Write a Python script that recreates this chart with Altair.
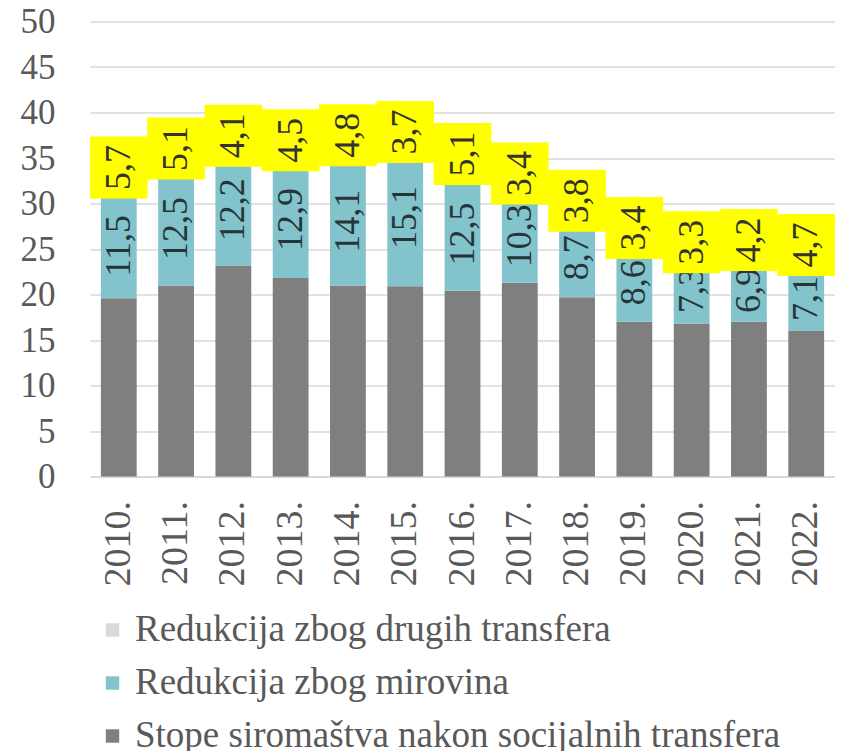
import altair as alt
import pandas as pd

years = ["2010.", "2011.", "2012.", "2013.", "2014.", "2015.", "2016.",
         "2017.", "2018.", "2019.", "2020.", "2021.", "2022."]
stope = [19.6, 21.0, 23.2, 21.8, 21.0, 20.9, 20.4, 21.3, 19.7, 17.0, 16.8, 17.0, 16.0]
mirovine = [11.5, 12.5, 12.2, 12.9, 14.1, 15.1, 12.5, 10.3, 8.7, 8.6, 7.3, 6.9, 7.1]
drugi = [5.7, 5.1, 4.1, 4.5, 4.8, 3.7, 5.1, 3.4, 3.8, 3.4, 3.3, 4.2, 4.7]

s_names = ["Redukcija zbog drugih transfera", "Redukcija zbog mirovina",
           "Stope siromaštva nakon socijalnih transfera"]
s_colors = ["#d9d9d9", "#83c3cc", "#7f7f7f"]

rows = []
for i, yr in enumerate(years):
    b0 = 0.0
    b1 = stope[i]
    b2 = b1 + mirovine[i]
    b3 = b2 + drugi[i]
    rows.append(dict(year=yr, series=s_names[2], y0=b0, y1=b1, val=stope[i]))
    rows.append(dict(year=yr, series=s_names[1], y0=b1, y1=b2, val=mirovine[i]))
    rows.append(dict(year=yr, series=s_names[0], y0=b2, y1=b3, val=drugi[i]))
df = pd.DataFrame(rows)
df["mid"] = (df["y0"] + df["y1"]) / 2
df["label"] = df["val"].map(lambda v: f"{v:.1f}".replace(".", ","))

FONT = "Liberation Serif"

xenc = alt.X("year:N", sort=years, title=None,
             scale=alt.Scale(paddingInner=0.375, paddingOuter=0.19),
             axis=alt.Axis(labelAngle=-90, labelFont=FONT, labelFontSize=38,
                           labelColor="#595959", labelPadding=24, ticks=False,
                           domainColor="#d9d9d9", domainWidth=2, grid=False))

bars = alt.Chart(df).mark_bar().encode(
    x=xenc,
    y=alt.Y("y0:Q", title=None,
            scale=alt.Scale(domain=[0, 50], nice=False),
            axis=alt.Axis(values=list(range(0, 51, 5)), labelFont=FONT,
                          labelFontSize=35, labelColor="#595959",
                          labelPadding=35, ticks=False, domain=False,
                          gridColor="#d9d9d9", gridWidth=1.5)),
    y2="y1:Q",
    color=alt.Color("series:N", title=None,
                    scale=alt.Scale(domain=s_names, range=s_colors),
                    legend=alt.Legend(orient="none", legendX=4, legendY=590,
                                      direction="vertical", symbolType="square",
                                      symbolSize=180, symbolStrokeWidth=0,
                                      labelFont=FONT, labelFontSize=37,
                                      labelColor="#595959", rowPadding=15,
                                      labelLimit=800, labelOffset=4)),
)

teal_lbl = alt.Chart(df[df["series"] == s_names[1]]).mark_text(
    angle=270, font=FONT, fontSize=36, color="#263638", baseline="middle",
    align="center"
).encode(x=alt.X("year:N", sort=years), y="mid:Q", text="label:N")

top = df[df["series"] == s_names[0]]
boxes = alt.Chart(top).mark_point(
    shape="M-0.929,-1L0.929,-1L0.929,1L-0.929,1Z", filled=True, opacity=1,
    size=3844, color="#ffff00", strokeWidth=0
).encode(x=alt.X("year:N", sort=years), y="mid:Q")

top_lbl = alt.Chart(top).mark_text(
    angle=270, font=FONT, fontSize=36, color="#333333", baseline="middle",
    align="center"
).encode(x=alt.X("year:N", sort=years), y="mid:Q", text="label:N")

chart = alt.layer(bars, teal_lbl, boxes, top_lbl).properties(
    width=745, height=455,
    autosize=alt.AutoSizeParams(type="none"),
    padding={"left": 82, "top": 13.5, "right": 0, "bottom": 274},
).configure_view(stroke=None)

chart.save("out.html", embed_options={"renderer": "svg", "actions": False})
